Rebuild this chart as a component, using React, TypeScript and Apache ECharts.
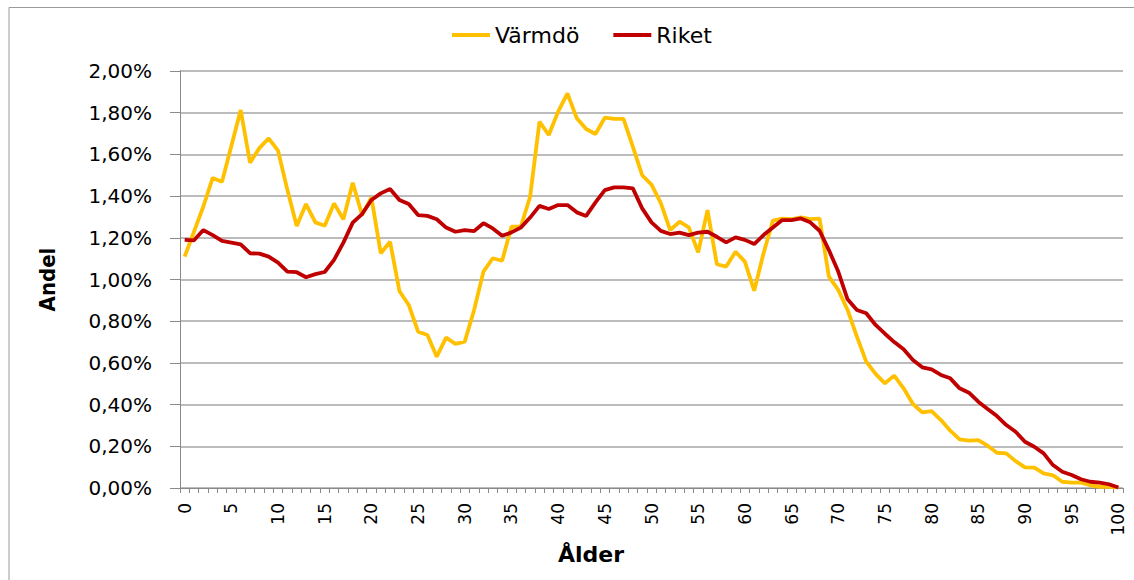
import React, { useEffect, useRef } from "react";
import * as echarts from "echarts";

const ages: string[] = Array.from({ length: 101 }, (_, i) => String(i));

const varmdo: number[] = [
  1.11, 1.23, 1.35, 1.487, 1.469, 1.64, 1.813, 1.56, 1.63, 1.677,
  1.618, 1.43, 1.257, 1.362, 1.274, 1.258, 1.365, 1.289, 1.464, 1.309,
  1.394, 1.126, 1.181, 0.945, 0.878, 0.75, 0.734, 0.63, 0.721, 0.691,
  0.702, 0.854, 1.038, 1.102, 1.09, 1.253, 1.253, 1.397, 1.757, 1.693,
  1.805, 1.893, 1.773, 1.722, 1.698, 1.776, 1.77, 1.77, 1.637, 1.5,
  1.455, 1.366, 1.237, 1.277, 1.25, 1.13, 1.333, 1.073, 1.062, 1.133,
  1.086, 0.946, 1.126, 1.282, 1.292, 1.289, 1.298, 1.29, 1.292, 1.014,
  0.95, 0.854, 0.726, 0.606, 0.547, 0.502, 0.539, 0.478, 0.403, 0.363,
  0.369, 0.326, 0.275, 0.233, 0.227, 0.23, 0.203, 0.169, 0.166, 0.129,
  0.099, 0.098, 0.07, 0.061, 0.03, 0.026, 0.026, 0.013, 0.006, 0.005,
  0.003,
];

const riket: number[] = [
  1.19, 1.188, 1.237, 1.213, 1.185, 1.177, 1.169, 1.126, 1.124, 1.11,
  1.081, 1.038, 1.035, 1.011, 1.026, 1.036, 1.094, 1.177, 1.273, 1.314,
  1.381, 1.413, 1.434, 1.381, 1.362, 1.309, 1.305, 1.289, 1.249, 1.229,
  1.237, 1.232, 1.27, 1.245, 1.21, 1.226, 1.249, 1.297, 1.353, 1.338,
  1.357, 1.357, 1.322, 1.305, 1.37, 1.429, 1.442, 1.442, 1.437, 1.341,
  1.274, 1.233, 1.218, 1.225, 1.213, 1.225, 1.229, 1.205, 1.178, 1.202,
  1.19, 1.17, 1.213, 1.249, 1.285, 1.285, 1.293, 1.274, 1.234, 1.141,
  1.038, 0.905, 0.854, 0.838, 0.782, 0.74, 0.7, 0.665, 0.614, 0.579,
  0.569, 0.542, 0.526, 0.478, 0.457, 0.414, 0.379, 0.345, 0.302, 0.27,
  0.222, 0.198, 0.166, 0.11, 0.078, 0.062, 0.042, 0.03, 0.026, 0.018,
  0.002,
];

const seriesNames = ["Värmdö", "Riket"];
const seriesColors = ["#FFC000", "#C00000"];

export default function App() {
  const ref = useRef<HTMLDivElement>(null);
  useEffect(() => {
    if (!ref.current) return;
    const chart = echarts.init(ref.current, undefined, { renderer: "svg" });
    chart.setOption({
      animation: false,
      backgroundColor: "#ffffff",
      legend: {
        data: seriesNames,
        left: 447,
        top: 19,
        icon: "rect",
        itemWidth: 38,
        itemHeight: 4,
        itemGap: 34,
        textStyle: { fontFamily: "DejaVu Sans", fontSize: 22, color: "#000" },
      },
      grid: { left: 180, right: 11, top: 71, bottom: 92, containLabel: false },
      xAxis: {
        type: "category",
        data: ages,
        boundaryGap: true,
        name: "Ålder",
        nameLocation: "middle",
        nameGap: 54,
        nameTextStyle: {
          fontFamily: "DejaVu Sans",
          fontWeight: "bold",
          fontSize: 22,
          color: "#000",
          padding: [0, 121, 0, 0],
        },
        axisLine: { lineStyle: { color: "#8a8a8a", width: 1 } },
        axisTick: { show: true, interval: 0, length: 5, lineStyle: { color: "#8a8a8a" } },
        axisLabel: {
          interval: (idx: number) => idx % 5 === 0,
          rotate: 90,
          margin: 15,
          fontFamily: "DejaVu Sans",
          fontSize: 17,
          color: "#000",
        },
        splitLine: { show: false },
      },
      yAxis: {
        type: "value",
        min: 0,
        max: 2,
        interval: 0.2,
        name: "Andel",
        nameLocation: "middle",
        nameRotate: 90,
        nameGap: 122,
        nameTextStyle: {
          fontFamily: "'Liberation Sans Narrow', 'DejaVu Sans Condensed', 'Liberation Sans', sans-serif",
          fontWeight: "bold",
          fontSize: 22,
          color: "#000",
        },
        axisLine: { show: true, lineStyle: { color: "#8a8a8a", width: 1 } },
        axisTick: { show: true, length: 10, lineStyle: { color: "#8a8a8a" } },
        axisLabel: {
          margin: 28,
          fontFamily: "DejaVu Sans",
          fontSize: 20,
          color: "#000",
          formatter: (v: number) => v.toFixed(2).replace(".", ",") + "%",
        },
        splitLine: { show: true, lineStyle: { color: "#a6a6a6", width: 1.5 } },
      },
      series: [
        {
          name: seriesNames[0],
          type: "line",
          data: varmdo,
          showSymbol: false,
          symbol: "none",
          lineStyle: { color: seriesColors[0], width: 3.8 },
          itemStyle: { color: seriesColors[0] },
          z: 2,
        },
        {
          name: seriesNames[1],
          type: "line",
          data: riket,
          showSymbol: false,
          symbol: "none",
          lineStyle: { color: seriesColors[1], width: 3.8 },
          itemStyle: { color: seriesColors[1] },
          z: 3,
        },
      ],
      graphic: [
        {
          type: "line",
          shape: { x1: 9, y1: 7.5, x2: 1134, y2: 7.5 },
          style: { stroke: "#9a9a9a", lineWidth: 1 },
          silent: true,
        },
        {
          type: "line",
          shape: { x1: 9, y1: 7.5, x2: 9, y2: 580 },
          style: { stroke: "#9a9a9a", lineWidth: 1 },
          silent: true,
        },
      ],
    });
    return () => chart.dispose();
  }, []);
  return (
    <div
      ref={ref}
      style={{ position: "absolute", left: 0, top: 0, width: 1134, height: 580 }}
    />
  );
}
